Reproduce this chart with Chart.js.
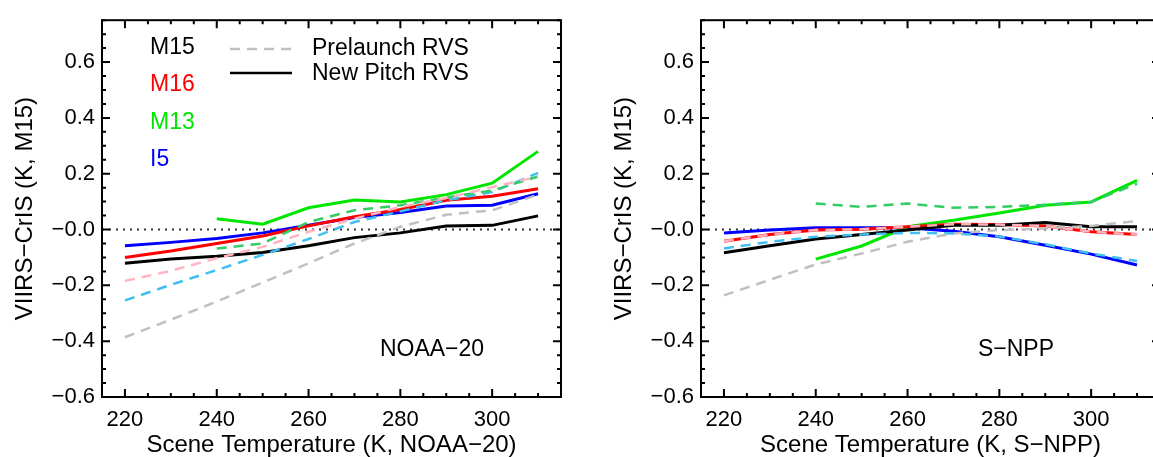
<!DOCTYPE html>
<html>
<head>
<meta charset="utf-8">
<script src="https://cdn.jsdelivr.net/npm/chart.js@4/dist/chart.umd.min.js"></script>
<style>
  html, body { margin: 0; padding: 0; background: #fff; overflow: hidden; }
  body { width: 1153px; height: 457px; position: relative; }
  .panel { position: absolute; top: 0; width: 580px; height: 457px; }
</style>
</head>
<body>
<div class="panel" style="left:0px"><canvas id="n20" width="580" height="457"></canvas></div>
<div class="panel" style="left:599px"><canvas id="npp" width="580" height="457"></canvas></div>
<script>
// scene temperature bins (K)
const temps = [220, 230, 240, 250, 260, 270, 280, 290, 300, 310];

// NOAA-20, new pitch RVS (solid)
const n20NewM15 = [-0.121, -0.106, -0.096, -0.082, -0.058, -0.029, -0.012, 0.013, 0.015, 0.049];
const n20NewM16 = [-0.100, -0.077, -0.050, -0.023, 0.013, 0.046, 0.072, 0.105, 0.119, 0.146];
const n20NewM13 = [null, null, 0.039, 0.019, 0.078, 0.106, 0.099, 0.125, 0.166, 0.280];
const n20NewI5  = [-0.058, -0.046, -0.032, -0.012, 0.015, 0.043, 0.061, 0.084, 0.087, 0.128];
// NOAA-20, prelaunch RVS (dashed)
const n20PreM15 = [-0.386, -0.323, -0.258, -0.190, -0.121, -0.050, 0.010, 0.053, 0.069, 0.125];
const n20PreM16 = [-0.184, -0.148, -0.103, -0.062, -0.008, 0.039, 0.081, 0.113, 0.152, 0.190];
const n20PreM13 = [null, null, -0.068, -0.050, 0.027, 0.069, 0.087, 0.115, 0.140, 0.190];
const n20PreI5  = [-0.254, -0.198, -0.145, -0.091, -0.034, 0.027, 0.065, 0.105, 0.134, 0.203];

// S-NPP, new pitch RVS (solid)
const nppNewM15 = [-0.083, -0.058, -0.034, -0.018, -0.002, 0.015, 0.015, 0.025, 0.010, 0.010];
const nppNewM16 = [-0.042, -0.018, -0.002, 0.001, 0.010, 0.019, 0.018, 0.013, -0.008, -0.018];
const nppNewM13 = [null, null, -0.106, -0.059, 0.010, 0.033, 0.059, 0.087, 0.099, 0.176];
const nppNewI5  = [-0.012, -0.002, 0.006, 0.006, 0.006, -0.006, -0.026, -0.056, -0.088, -0.127];
// S-NPP, prelaunch RVS (dashed)
const nppPreM15 = [-0.236, -0.180, -0.125, -0.086, -0.044, -0.014, -0.002, 0.004, 0.013, 0.030];
const nppPreM16 = [-0.042, -0.018, -0.002, 0.001, 0.010, 0.019, 0.018, 0.013, -0.008, -0.018];
const nppPreM13 = [null, null, 0.093, 0.081, 0.093, 0.078, 0.081, 0.089, 0.099, 0.164];
const nppPreI5  = [-0.068, -0.044, -0.026, -0.018, -0.012, -0.014, -0.025, -0.053, -0.086, -0.113];

// axes
const xTicks = [220, 240, 260, 280, 300];
const xTickLabels = ['220', '240', '260', '280', '300'];
const yTicks = [0.6, 0.4, 0.2, 0, -0.2, -0.4, -0.6];
const yTickLabels = ['0.6', '0.4', '0.2', '\u22120.0', '\u22120.2', '\u22120.4', '\u22120.6'];

const bands = ['M15', 'M16', 'M13', 'I5'];
const solidColors = ['#000000', '#ff0000', '#00e600', '#0000ff'];
const dashColors = ['#c0c0c0', '#ffb4c0', '#33cc66', '#40bff0'];

Chart.defaults.font.family = '"Liberation Sans", Arial, sans-serif';
Chart.defaults.color = '#000';

function pts(vals) {
  return temps.map((t, i) => ({ x: t, y: vals[i] })).filter(p => p.y !== null);
}

// IDL-like frame with inward ticks on all four sides, plus dotted zero line
const framePlugin = {
  id: 'frame',
  beforeDatasetsDraw(chart) {
    const { ctx, chartArea: a, scales: { y } } = chart;
    const y0 = y.getPixelForValue(0);
    ctx.save();
    ctx.strokeStyle = '#333';
    ctx.lineWidth = 2;
    ctx.setLineDash([2, 5]);
    ctx.beginPath();
    ctx.moveTo(a.left, y0);
    ctx.lineTo(a.right, y0);
    ctx.stroke();
    ctx.restore();
  },
  afterDatasetsDraw(chart) {
    const { ctx, chartArea: a, scales: { x, y } } = chart;
    ctx.save();
    ctx.strokeStyle = '#000';
    ctx.lineWidth = 2;
    ctx.strokeRect(a.left, a.top, a.right - a.left, a.bottom - a.top);
    ctx.beginPath();
    for (let t = 215; t <= 315; t += 5) {
      const px = x.getPixelForValue(t);
      const len = t % 20 === 0 ? 8 : 4;
      ctx.moveTo(px, a.bottom); ctx.lineTo(px, a.bottom - len);
      ctx.moveTo(px, a.top); ctx.lineTo(px, a.top + len);
    }
    for (let k = -12; k <= 15; k++) {
      const v = k * 0.05;
      const py = y.getPixelForValue(v);
      const len = k % 4 === 0 ? 8 : 4;
      ctx.moveTo(a.left, py); ctx.lineTo(a.left + len, py);
      ctx.moveTo(a.right, py); ctx.lineTo(a.right - len, py);
    }
    ctx.stroke();
    ctx.restore();
  }
};

// text and line samples drawn inside the plot area
function labelPlugin(name, withLegend) {
  return {
    id: 'labels',
    afterDraw(chart) {
      const { ctx } = chart;
      ctx.save();
      ctx.font = '23px "Liberation Sans", Arial, sans-serif';
      ctx.textBaseline = 'middle';
      ctx.textAlign = 'center';
      ctx.fillStyle = '#000';
      ctx.fillText(name, withLegend ? 432 : 417, 350);
      if (withLegend) {
        ctx.textAlign = 'left';
        const rows = [48, 85, 123, 160];
        bands.forEach((b, i) => {
          ctx.fillStyle = solidColors[i];
          ctx.fillText(b, 150, rows[i]);
        });
        ctx.fillStyle = '#000';
        ctx.fillText('Prelaunch RVS', 312, 49);
        ctx.fillText('New Pitch RVS', 312, 74);
        ctx.lineWidth = 2.5;
        ctx.strokeStyle = '#c0c0c0';
        ctx.setLineDash([10, 7]);
        ctx.beginPath(); ctx.moveTo(230, 49); ctx.lineTo(292, 49); ctx.stroke();
        ctx.strokeStyle = '#000';
        ctx.setLineDash([]);
        ctx.beginPath(); ctx.moveTo(230, 73); ctx.lineTo(292, 73); ctx.stroke();
      }
      ctx.restore();
    }
  };
}

function makeChart(id, name, pre, neu, withLegend) {
  const datasets = [];
  pre.forEach((vals, i) => datasets.push({
    label: bands[i] + ' prelaunch',
    data: pts(vals),
    borderColor: dashColors[i],
    borderWidth: 2.5,
    borderDash: [10, 7],
    pointRadius: 0,
    tension: 0
  }));
  neu.forEach((vals, i) => datasets.push({
    label: bands[i] + ' new pitch',
    data: pts(vals),
    borderColor: solidColors[i],
    borderWidth: 3,
    pointRadius: 0,
    tension: 0
  }));

  new Chart(document.getElementById(id), {
    type: 'line',
    data: { datasets: datasets },
    options: {
      responsive: false,
      animation: false,
      layout: { padding: { top: 17, right: 19, left: 0, bottom: 0 } },
      plugins: { legend: { display: false }, tooltip: { enabled: false } },
      scales: {
        x: {
          type: 'linear',
          min: 215,
          max: 315,
          grid: { display: false, drawTicks: false },
          border: { display: false },
          afterBuildTicks: s => { s.ticks = xTicks.map(v => ({ value: v })); },
          afterFit: s => { s.height = 60; },
          ticks: {
            padding: 10,
            font: { size: 22 },
            callback: v => xTickLabels[xTicks.indexOf(v)]
          },
          title: {
            display: true,
            text: 'Scene Temperature (K, ' + name + ')',
            font: { size: 24, lineHeight: 1 },
            padding: { top: 0, bottom: 0 }
          }
        },
        y: {
          type: 'linear',
          min: -0.6,
          max: 0.75,
          grid: { display: false, drawTicks: false },
          border: { display: false },
          afterBuildTicks: s => { s.ticks = yTicks.map(v => ({ value: v })); },
          afterFit: s => { s.width = 102; },
          ticks: {
            padding: 7,
            font: { size: 22 },
            callback: v => yTickLabels[yTicks.indexOf(v)]
          },
          title: {
            display: true,
            text: 'VIIRS\u2212CrIS (K, M15)',
            font: { size: 24, lineHeight: 1 },
            padding: { top: 13, bottom: 0 }
          }
        }
      }
    },
    plugins: [framePlugin, labelPlugin(name, withLegend)]
  });
}

makeChart('n20', 'NOAA\u221220',
  [n20PreM15, n20PreM16, n20PreM13, n20PreI5],
  [n20NewM15, n20NewM16, n20NewM13, n20NewI5], true);
makeChart('npp', 'S\u2212NPP',
  [nppPreM15, nppPreM16, nppPreM13, nppPreI5],
  [nppNewM15, nppNewM16, nppNewM13, nppNewI5], false);
</script>
</body>
</html>
